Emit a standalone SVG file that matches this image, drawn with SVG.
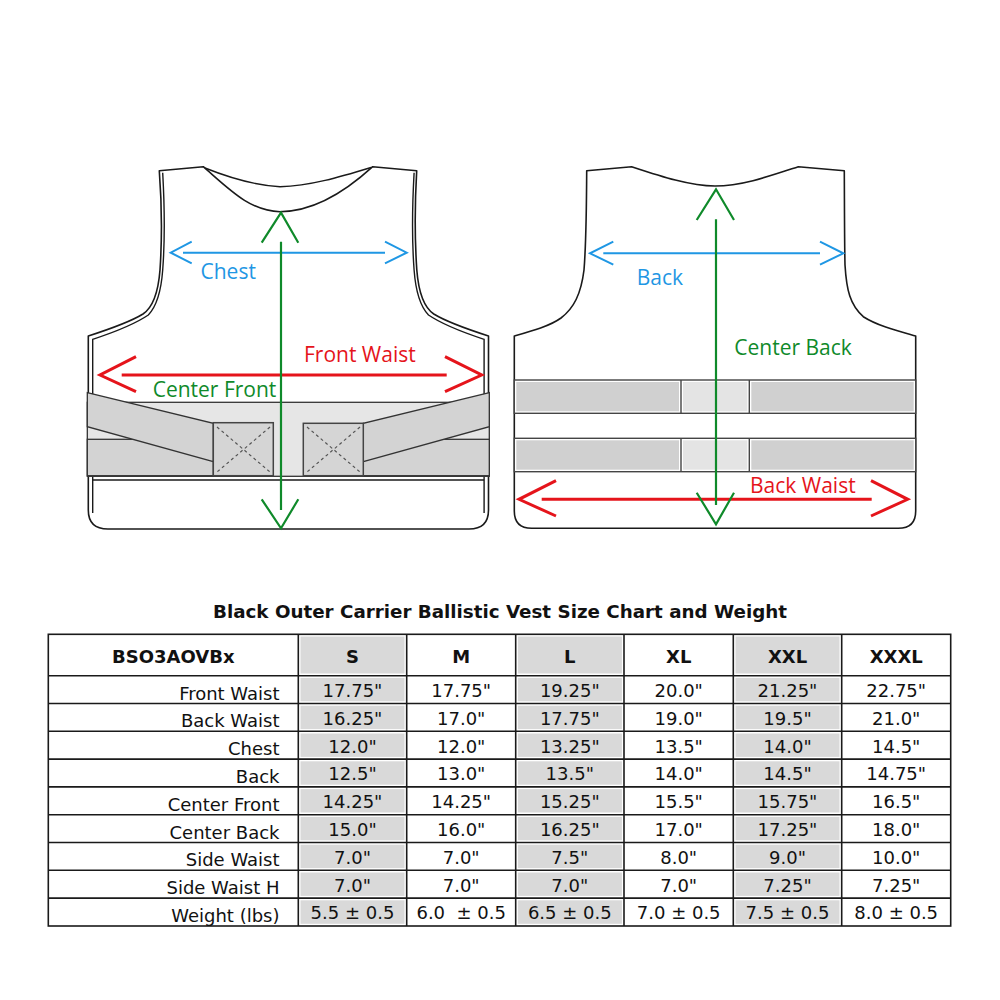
<svg xmlns="http://www.w3.org/2000/svg" width="1000" height="1000" viewBox="0 0 1000 1000">
<style>
.ol{fill:#fff;stroke:#1a1a1a;stroke-width:1.6;stroke-linejoin:round}
.ln{fill:none;stroke:#1a1a1a;stroke-width:1.4}
.band{fill:#e6e6e6;stroke:#333;stroke-width:1.3}
.strap{fill:#d3d3d3;stroke:#333;stroke-width:1.3}
.patch{fill:#d5d5d5;stroke:#444;stroke-width:1.5}
.dash{fill:none;stroke:#555;stroke-width:1.2;stroke-dasharray:3 3}
.bl{fill:none;stroke:#1f97e4;stroke-width:2}
.gr{fill:none;stroke:#0f8a2a;stroke-width:2.2}
.rd{fill:none;stroke:#e5141b;stroke-width:3}
.lab{font-family:"Open Sans","Noto Sans",sans-serif;font-size:21px}
.grid{fill:none;stroke:#1a1a1a;stroke-width:1.6}
.sh{fill:#d9d9d9}
.t{font-family:"DejaVu Sans",Verdana,sans-serif;font-size:18px;fill:#111}
.h{font-family:"DejaVu Sans",Verdana,sans-serif;font-size:18px;font-weight:bold;fill:#111}
.v{text-anchor:middle}
.r{text-anchor:end}
</style>
<rect width="1000" height="1000" fill="#fff"/>

<g id="front-vest">
  <path class="ol" d="M159.3,170.7 L203.3,166.7 C230,190 250,211 280,211.7 C312,211.7 345,192 372.7,166.7 L416.7,170.7 C415,200 414.8,240 416.8,270 C418.8,295 424.8,308 433.8,314 C446.8,322 466.8,329 488.5,336 L488.5,510 Q488.5,529 469,529 L108,529 Q88.3,529 88.3,510 L88.3,336 C110,329 130,322 143,314 C152,308 158,295 160,270 C162,240 161.5,200 159.3,170.7 Z"/>
  <path class="ln" d="M205,168 C225,176 250,185 280,186.7 C310,186 340,177 371,167.5"/>
  <path class="ln" d="M162.7,172.7 C164.5,205 165,240 162.7,270 C161,293 156,307 148.3,315 C138,322 118,331 92.7,339.3 L92.7,513"/>
  <path class="ln" d="M414.1,172.7 C412.3,205 411.8,240 414.1,270 C415.8,293 420.8,307 428.5,315 C438.8,322 458.8,331 484.1,339.3 L484.1,513"/>
  <line class="ln" x1="92.7" y1="480" x2="484.1" y2="480"/>
  <rect class="band" x="87.3" y="402.3" width="402" height="74"/>
  <rect class="strap" x="87.3" y="439.3" width="126" height="36.4"/>
  <rect class="strap" x="363.3" y="439.3" width="126" height="36.4"/>
  <polygon class="strap" points="87.3,392.7 213.3,423.3 213.3,461.7 87.3,426.7"/>
  <polygon class="strap" points="489.3,392.7 363.3,423.3 363.3,461.7 489.3,426.7"/>
  <rect class="patch" x="213.3" y="422.7" width="60" height="53"/>
  <path class="dash" d="M217,427 L270,472 M270,427 L217,472"/>
  <rect class="patch" x="303.3" y="423.3" width="60" height="52.4"/>
  <path class="dash" d="M307,427 L360,472 M360,427 L307,472"/>
</g>

<g id="back-vest">
  <path class="ol" d="M586.7,170.7 L631.7,166.7 C660,176 690,186 715,186 C742,186 770,176 798.3,166.7 L844.3,170.7 C844.5,210 844.5,245 845,265 C846.5,290 850,305 863.3,316.7 C878,326 898,331 915.7,336 L915.7,511 Q915.7,528.3 898.3,528.3 L531.7,528.3 Q514.3,528.3 514.3,511 L514.3,336 C532,331 550,326 561,318 C574,308 581,294 584,270 C586,245 586.5,210 586.7,170.7 Z"/>
  <rect x="514.3" y="380" width="401.4" height="33.3" fill="#fff" stroke="#444" stroke-width="1.4"/>
  <rect x="516.3" y="382" width="162.7" height="29.3" fill="#d0d0d0"/>
  <rect x="683" y="382" width="64.3" height="29.3" fill="#e4e4e4"/>
  <rect x="751.3" y="382" width="162.4" height="29.3" fill="#d0d0d0"/>
  <path d="M681,380 V413.3 M749.3,380 V413.3" stroke="#444" stroke-width="1.4"/>
  <rect x="514.3" y="438.3" width="401.4" height="33.4" fill="#fff" stroke="#444" stroke-width="1.4"/>
  <rect x="516.3" y="440.3" width="162.7" height="29.4" fill="#d0d0d0"/>
  <rect x="683" y="440.3" width="64.3" height="29.4" fill="#e4e4e4"/>
  <rect x="751.3" y="440.3" width="162.4" height="29.4" fill="#d0d0d0"/>
  <path d="M681,438.3 V471.7 M749.3,438.3 V471.7" stroke="#444" stroke-width="1.4"/>
</g>

<g id="arrows">
  <g id="chest-arrow">
    <path class="bl" d="M183,252.7 H385 M191.7,241.7 L170.7,252.7 L191.7,263.3 M385,241.7 L406.7,252.7 L385,263.3"/>
    <text class="lab" x="200.5" y="279" fill="#1f97e4">Chest</text>
  </g>
  <g id="front-waist-arrow">
    <path class="rd" d="M121.7,375 H446.7 M136,356.7 L100,375 L136,391.7 M445,356.7 L481.7,375 L445,391.7"/>
    <text class="lab" x="304" y="361.7" fill="#e5141b">Front Waist</text>
  </g>
  <g id="center-front-arrow">
    <path class="gr" d="M281,241.7 V510 M261.7,242.7 L281,212.7 L298.3,242.7 M261.7,499.3 L281,528.3 L298.3,499.3"/>
    <text class="lab" x="152.7" y="396.7" fill="#0f8a2a">Center Front</text>
  </g>
  <g id="back-arrow">
    <path class="bl" d="M603.3,253.3 H820 M613.3,241.7 L590,253.3 L613.3,264.7 M820,241.7 L843.3,253.3 L820,264.7"/>
    <text class="lab" x="636.7" y="285" fill="#1f97e4">Back</text>
  </g>
  <g id="back-waist-arrow">
    <path class="rd" d="M541.7,499.3 H871.7 M556,480.7 L519,499.3 L556,516 M871,480.7 L907.7,499.3 L871,516"/>
    <text class="lab" x="750" y="493.3" fill="#e5141b">Back Waist</text>
  </g>
  <g id="center-back-arrow">
    <path class="gr" d="M716,219.3 V505 M696.7,220 L716,189.3 L734,220 M696.7,492.7 L716,524.3 L734,492.7"/>
    <text class="lab" x="734.3" y="355" fill="#0f8a2a">Center Back</text>
  </g>
</g>

<g id="table">
  <text class="h v" x="500" y="617.7" textLength="574" lengthAdjust="spacingAndGlyphs">Black Outer Carrier Ballistic Vest Size Chart and Weight</text>
  <g id="shading">
    <rect class="sh" x="300.5" y="636.5" width="104" height="37"/>
    <rect class="sh" x="517.9" y="636.5" width="104" height="37"/>
    <rect class="sh" x="735.5" y="636.5" width="104" height="37"/>
    <rect class="sh" x="300.5" y="677.9" width="104" height="23.4"/>
    <rect class="sh" x="300.5" y="705.7" width="104" height="23.4"/>
    <rect class="sh" x="300.5" y="733.5" width="104" height="23.4"/>
    <rect class="sh" x="300.5" y="761.3" width="104" height="23.4"/>
    <rect class="sh" x="300.5" y="789.1" width="104" height="23.4"/>
    <rect class="sh" x="300.5" y="816.9" width="104" height="23.4"/>
    <rect class="sh" x="300.5" y="844.7" width="104" height="23.4"/>
    <rect class="sh" x="300.5" y="872.5" width="104" height="23.4"/>
    <rect class="sh" x="300.5" y="900.3" width="104" height="23.5"/>
    <rect class="sh" x="517.9" y="677.9" width="104" height="23.4"/>
    <rect class="sh" x="517.9" y="705.7" width="104" height="23.4"/>
    <rect class="sh" x="517.9" y="733.5" width="104" height="23.4"/>
    <rect class="sh" x="517.9" y="761.3" width="104" height="23.4"/>
    <rect class="sh" x="517.9" y="789.1" width="104" height="23.4"/>
    <rect class="sh" x="517.9" y="816.9" width="104" height="23.4"/>
    <rect class="sh" x="517.9" y="844.7" width="104" height="23.4"/>
    <rect class="sh" x="517.9" y="872.5" width="104" height="23.4"/>
    <rect class="sh" x="517.9" y="900.3" width="104" height="23.5"/>
    <rect class="sh" x="735.5" y="677.9" width="104" height="23.4"/>
    <rect class="sh" x="735.5" y="705.7" width="104" height="23.4"/>
    <rect class="sh" x="735.5" y="733.5" width="104" height="23.4"/>
    <rect class="sh" x="735.5" y="761.3" width="104" height="23.4"/>
    <rect class="sh" x="735.5" y="789.1" width="104" height="23.4"/>
    <rect class="sh" x="735.5" y="816.9" width="104" height="23.4"/>
    <rect class="sh" x="735.5" y="844.7" width="104" height="23.4"/>
    <rect class="sh" x="735.5" y="872.5" width="104" height="23.4"/>
    <rect class="sh" x="735.5" y="900.3" width="104" height="23.5"/>
  </g>
  <g id="grid">
    <rect class="grid" x="48.3" y="634.3" width="902.4" height="291.7"/>
    <path class="grid" d="M298.3,634.3 V926 M406.7,634.3 V926 M515.7,634.3 V926 M624,634.3 V926 M733.3,634.3 V926 M841.7,634.3 V926 M48.3,675.7 H950.7 M48.3,703.5 H950.7 M48.3,731.3 H950.7 M48.3,759.1 H950.7 M48.3,786.9 H950.7 M48.3,814.7 H950.7 M48.3,842.5 H950.7 M48.3,870.3 H950.7 M48.3,898.1 H950.7"/>
  </g>
  <g id="header">
    <text class="h v" x="173.3" y="662.7">BSO3AOVBx</text>
    <text class="h v" x="352.5" y="662.7">S</text>
    <text class="h v" x="461.2" y="662.7">M</text>
    <text class="h v" x="569.8" y="662.7">L</text>
    <text class="h v" x="678.7" y="662.7">XL</text>
    <text class="h v" x="787.5" y="662.7">XXL</text>
    <text class="h v" x="896.2" y="662.7">XXXL</text>
  </g>
  <g id="labels">
    <text class="t r" x="279.5" y="699.5">Front Waist</text>
    <text class="t r" x="279.5" y="727.3">Back Waist</text>
    <text class="t r" x="279.5" y="755.1">Chest</text>
    <text class="t r" x="279.5" y="782.9">Back</text>
    <text class="t r" x="279.5" y="810.7">Center Front</text>
    <text class="t r" x="279.5" y="838.5">Center Back</text>
    <text class="t r" x="279.5" y="866.3">Side Waist</text>
    <text class="t r" x="279.5" y="894.1">Side Waist H</text>
    <text class="t r" x="279.5" y="921.5">Weight (lbs)</text>
  </g>
  <g id="values">
    <text class="t v" x="352.5" y="697">17.75&quot;</text>
    <text class="t v" x="461.2" y="697">17.75&quot;</text>
    <text class="t v" x="569.8" y="697">19.25&quot;</text>
    <text class="t v" x="678.7" y="697">20.0&quot;</text>
    <text class="t v" x="787.5" y="697">21.25&quot;</text>
    <text class="t v" x="896.2" y="697">22.75&quot;</text>

    <text class="t v" x="352.5" y="724.8">16.25&quot;</text>
    <text class="t v" x="461.2" y="724.8">17.0&quot;</text>
    <text class="t v" x="569.8" y="724.8">17.75&quot;</text>
    <text class="t v" x="678.7" y="724.8">19.0&quot;</text>
    <text class="t v" x="787.5" y="724.8">19.5&quot;</text>
    <text class="t v" x="896.2" y="724.8">21.0&quot;</text>

    <text class="t v" x="352.5" y="752.6">12.0&quot;</text>
    <text class="t v" x="461.2" y="752.6">12.0&quot;</text>
    <text class="t v" x="569.8" y="752.6">13.25&quot;</text>
    <text class="t v" x="678.7" y="752.6">13.5&quot;</text>
    <text class="t v" x="787.5" y="752.6">14.0&quot;</text>
    <text class="t v" x="896.2" y="752.6">14.5&quot;</text>

    <text class="t v" x="352.5" y="780.4">12.5&quot;</text>
    <text class="t v" x="461.2" y="780.4">13.0&quot;</text>
    <text class="t v" x="569.8" y="780.4">13.5&quot;</text>
    <text class="t v" x="678.7" y="780.4">14.0&quot;</text>
    <text class="t v" x="787.5" y="780.4">14.5&quot;</text>
    <text class="t v" x="896.2" y="780.4">14.75&quot;</text>

    <text class="t v" x="352.5" y="808.2">14.25&quot;</text>
    <text class="t v" x="461.2" y="808.2">14.25&quot;</text>
    <text class="t v" x="569.8" y="808.2">15.25&quot;</text>
    <text class="t v" x="678.7" y="808.2">15.5&quot;</text>
    <text class="t v" x="787.5" y="808.2">15.75&quot;</text>
    <text class="t v" x="896.2" y="808.2">16.5&quot;</text>

    <text class="t v" x="352.5" y="836">15.0&quot;</text>
    <text class="t v" x="461.2" y="836">16.0&quot;</text>
    <text class="t v" x="569.8" y="836">16.25&quot;</text>
    <text class="t v" x="678.7" y="836">17.0&quot;</text>
    <text class="t v" x="787.5" y="836">17.25&quot;</text>
    <text class="t v" x="896.2" y="836">18.0&quot;</text>

    <text class="t v" x="352.5" y="863.8">7.0&quot;</text>
    <text class="t v" x="461.2" y="863.8">7.0&quot;</text>
    <text class="t v" x="569.8" y="863.8">7.5&quot;</text>
    <text class="t v" x="678.7" y="863.8">8.0&quot;</text>
    <text class="t v" x="787.5" y="863.8">9.0&quot;</text>
    <text class="t v" x="896.2" y="863.8">10.0&quot;</text>

    <text class="t v" x="352.5" y="891.6">7.0&quot;</text>
    <text class="t v" x="461.2" y="891.6">7.0&quot;</text>
    <text class="t v" x="569.8" y="891.6">7.0&quot;</text>
    <text class="t v" x="678.7" y="891.6">7.0&quot;</text>
    <text class="t v" x="787.5" y="891.6">7.25&quot;</text>
    <text class="t v" x="896.2" y="891.6">7.25&quot;</text>

    <text class="t v" x="352.5" y="918.8">5.5 ± 0.5</text>
    <text class="t v" x="461.2" y="918.8" style="white-space:pre">6.0  ± 0.5</text>
    <text class="t v" x="569.8" y="918.8">6.5 ± 0.5</text>
    <text class="t v" x="678.7" y="918.8">7.0 ± 0.5</text>
    <text class="t v" x="787.5" y="918.8">7.5 ± 0.5</text>
    <text class="t v" x="896.2" y="918.8">8.0 ± 0.5</text>
  </g>
</g>
</svg>
